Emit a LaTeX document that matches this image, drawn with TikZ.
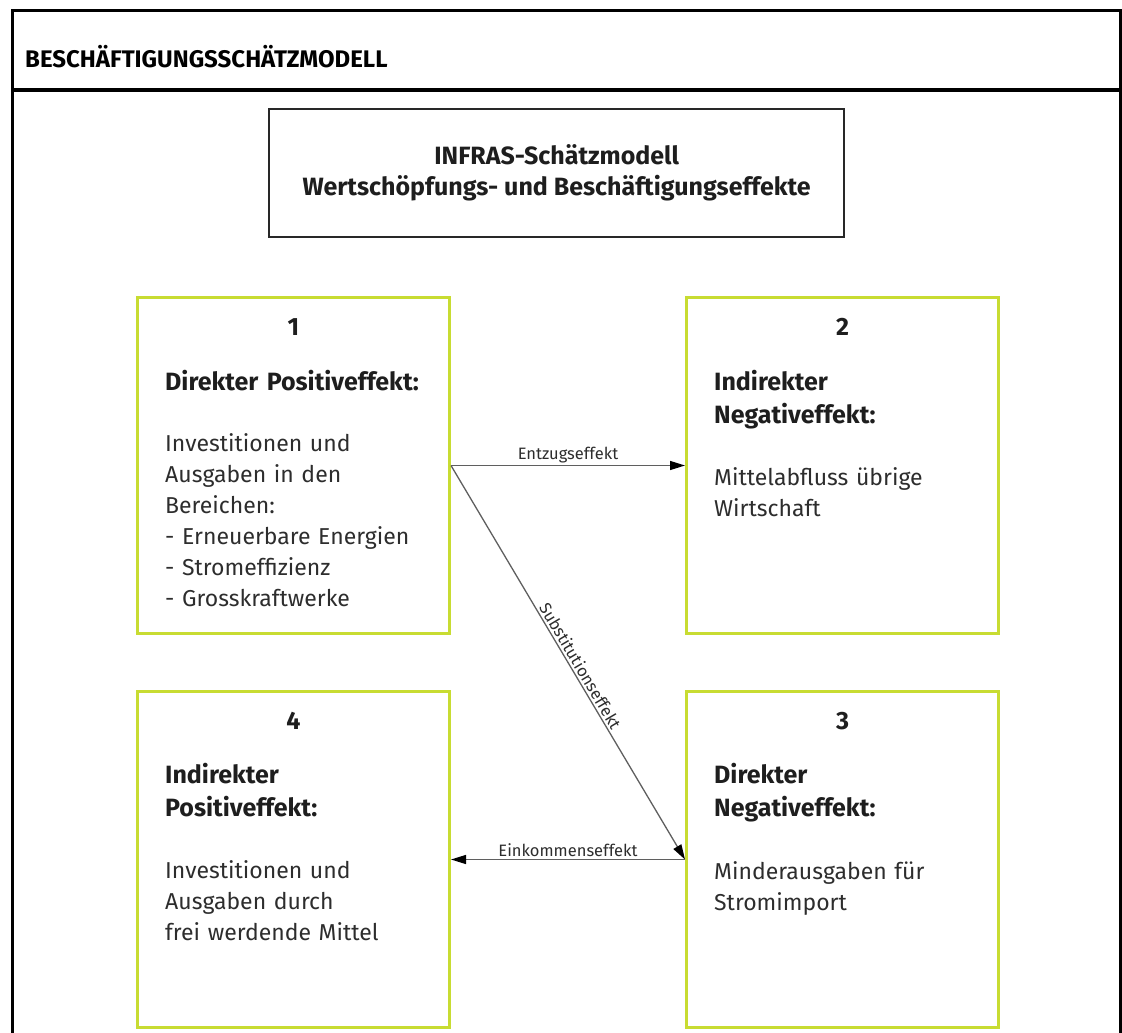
\documentclass[tikz,border=0pt]{standalone}
\usepackage{fontspec}
\setmainfont{Fira Sans}
\usetikzlibrary{arrows.meta,calc}
\definecolor{boxgreen}{RGB}{200,220,50}
\definecolor{txt}{RGB}{30,30,30}
\definecolor{bodytxt}{RGB}{45,45,45}
\definecolor{arrowgray}{RGB}{95,95,95}
\definecolor{titleline}{RGB}{40,40,40}
\begin{document}
\begin{tikzpicture}[x=1pt,y=-1pt,
  frameline/.style={line width=3pt,black},
  effbox/.style={draw=boxgreen,line width=3pt,minimum width=312pt,minimum height=336pt,inner sep=0pt,anchor=north west},
  titlebox/.style={draw=titleline,line width=2.4pt,minimum width=575pt,minimum height=128pt,inner sep=0pt,anchor=north west,align=center,text=txt,font=\bfseries\fontsize{25}{31}\selectfont},
  numlbl/.style={anchor=base,inner sep=0pt,text=txt,font=\bfseries\fontsize{25}{31}\selectfont},
  headlbl/.style={anchor=base west,inner sep=0pt,align=left,text width=280pt,text=txt,font=\bfseries\fontsize{25}{33}\selectfont},
  bodylbl/.style={anchor=base west,inner sep=0pt,align=left,text width=280pt,text=bodytxt,font=\fontsize{23}{31}\selectfont},
  conn/.style={draw=arrowgray,line width=1.3pt,-{Triangle[length=15pt,width=9pt,fill=black,color=black]}},
  arrlbl/.style={inner sep=2pt,text=bodytxt,font=\fontsize{16.5}{18}\selectfont},
  hdrlbl/.style={anchor=base west,inner sep=0pt,text=black,font=\bfseries\fontsize{24}{28}\selectfont}
]
\useasboundingbox (0,0) rectangle (1122,1033);
% outer frame
\draw[frameline] (12,1036) -- (12,11) -- (1120,11) -- (1120,1036);
\draw[frameline] (12,90) -- (1120,90);
\node[hdrlbl] (hdr) at (25,68) {BESCHÄFTIGUNGSSCHÄTZMODELL};
% title
\node[titlebox] (title) at (268,108) {INFRAS-Schätzmodell\\Wertschöpfungs- und Beschäftigungseffekte};
% boxes
\node[effbox] (b1) at (136,296) {};
\node[effbox] (b2) at (685,296) {};
\node[effbox] (b4) at (136,690) {};
\node[effbox] (b3) at (685,690) {};
% box 1
\node[numlbl] (n1) at ($(b1.north)+(0,39)$) {1};
\node[headlbl] (h1) at ($(b1.north west)+(29,94)$) {Direkter Positiveffekt:};
\node[bodylbl] (t1) at ($(b1.north west)+(29,155)$) {Investitionen und\\Ausgaben in den\\Bereichen:\\- Erneuerbare Energien\\- Stromeffizienz\\- Grosskraftwerke};
% box 2
\node[numlbl] (n2) at ($(b2.north)+(0,39)$) {2};
\node[headlbl] (h2) at ($(b2.north west)+(29,94)$) {Indirekter\\Negativeffekt:};
\node[bodylbl] (t2) at ($(b2.north west)+(29,189)$) {Mittelabfluss übrige\\Wirtschaft};
% box 3
\node[numlbl] (n3) at ($(b3.north)+(0,39)$) {3};
\node[headlbl] (h3) at ($(b3.north west)+(29,93)$) {Direkter\\Negativeffekt:};
\node[bodylbl] (t3) at ($(b3.north west)+(29,189)$) {Minderausgaben für\\Stromimport};
% box 4
\node[numlbl] (n4) at ($(b4.north)+(0,39)$) {4};
\node[headlbl] (h4) at ($(b4.north west)+(29,93)$) {Indirekter\\Positiveffekt:};
\node[bodylbl] (t4) at ($(b4.north west)+(29,188)$) {Investitionen und\\Ausgaben durch\\frei werdende Mittel};
% connectors
\draw[conn] (b1.east) -- node[arrlbl,above] (l12) {Entzugseffekt} (b2.west);
\draw[conn] (b1.east) -- node[arrlbl,sloped,above,pos=0.52] (l13) {Substitutionseffekt} (b3.west);
\draw[conn] (b3.west) -- node[arrlbl,above] (l34) {Einkommenseffekt} (b4.east);
\end{tikzpicture}
\end{document}
